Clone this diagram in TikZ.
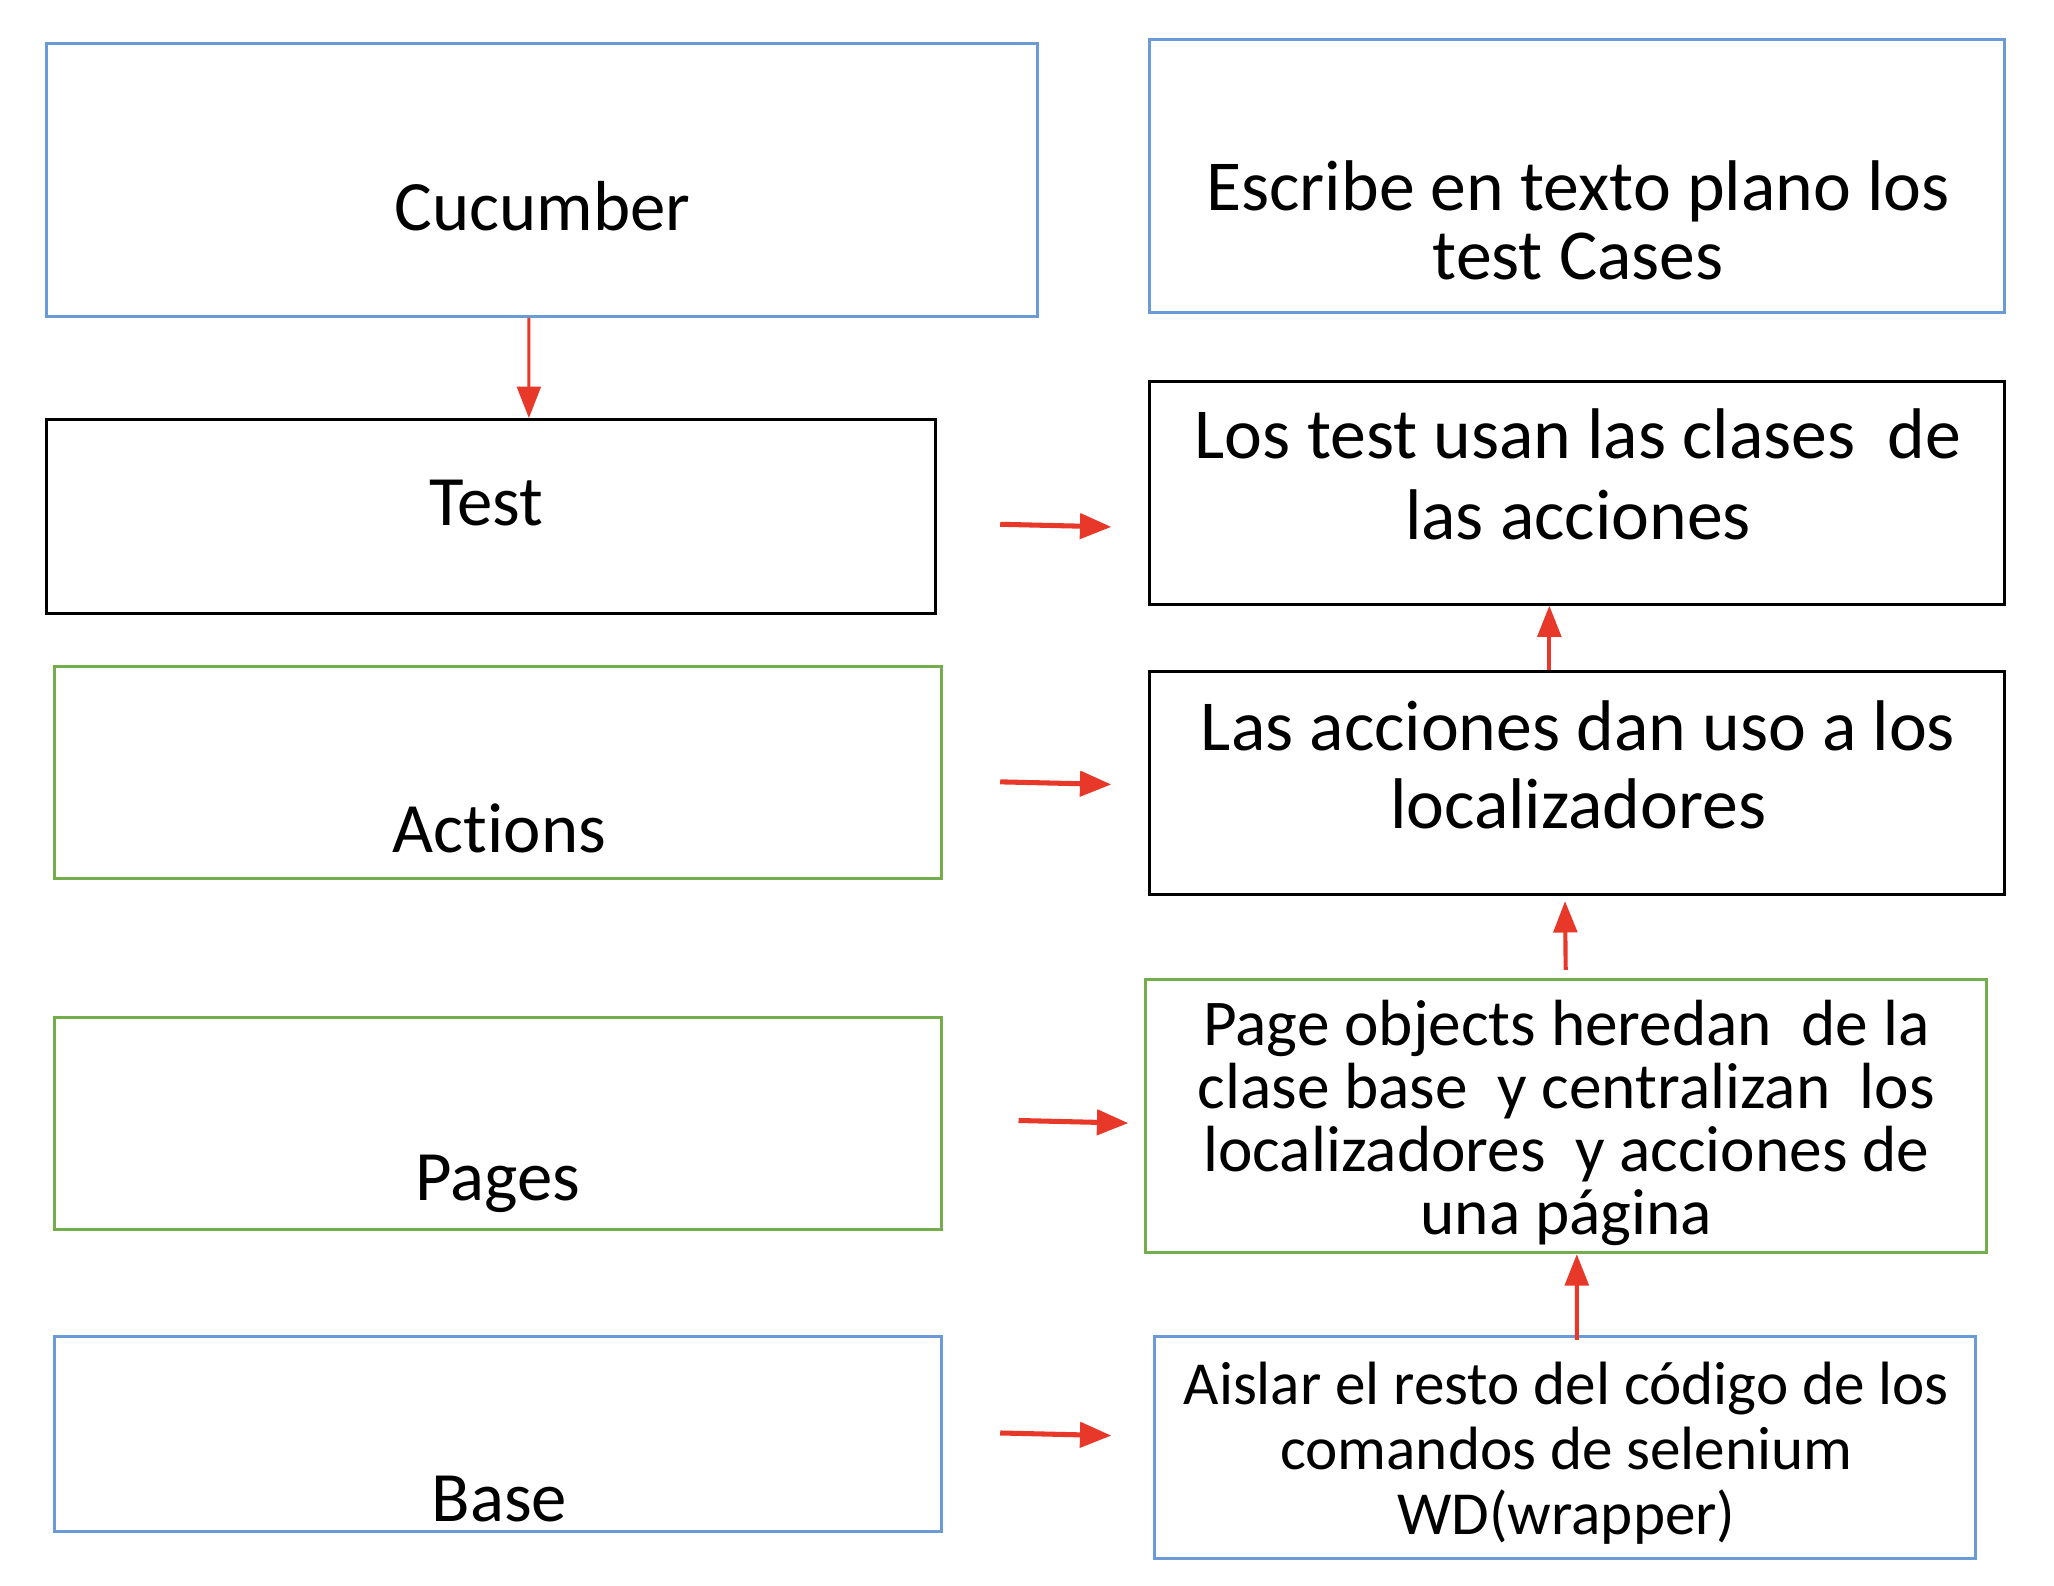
\documentclass[tikz,border=0pt]{standalone}
\usepackage{fontspec}
\setmainfont{Carlito}[Ligatures=NoCommon]
\usetikzlibrary{arrows.meta}
\definecolor{boxblue}{HTML}{6A9BD6}
\definecolor{boxgreen}{HTML}{74AD4C}
\definecolor{arrred}{HTML}{E8382A}
\begin{document}
\begin{tikzpicture}[x=0.01cm,y=-0.01cm,
  box/.style={draw=#1,line width=0.65pt,inner sep=0pt,fill=none},
  lefttext/.style={anchor=base,inner sep=0pt,font=\fontsize{15.4}{18}\selectfont},
  righttext/.style={anchor=center,inner sep=0pt,align=center},
  varrow/.style={draw=arrred,line width=0.9pt,-{Triangle[length=0.24cm,width=0.18cm]}},
  harrow/.style={draw=arrred,line width=1.1pt,-{Triangle[length=0.24cm,width=0.19cm]}}]
\useasboundingbox (0,0) rectangle (1571,1213);
% boxes
\node[box=boxblue,minimum width=7.57cm,minimum height=2.09cm] (cuc) at (414.5,137.5) {};
\node[box=boxblue,minimum width=6.54cm,minimum height=2.09cm] (esc) at (1206,134.5) {};
\node[box=black,minimum width=6.79cm,minimum height=1.48cm] (test) at (375.5,395) {};
\node[box=black,minimum width=6.54cm,minimum height=1.70cm] (los) at (1206,377) {};
\node[box=boxgreen,minimum width=6.78cm,minimum height=1.62cm] (act) at (381,591) {};
\node[box=black,minimum width=6.54cm,minimum height=1.70cm] (las) at (1206,599) {};
\node[box=boxgreen,minimum width=6.78cm,minimum height=1.62cm] (pag) at (381,859) {};
\node[box=boxgreen,minimum width=6.43cm,minimum height=2.09cm] (pob) at (1197.5,853.5) {};
\node[box=boxblue,minimum width=6.78cm,minimum height=1.49cm] (bas) at (381,1096.5) {};
\node[box=boxblue,minimum width=6.28cm,minimum height=1.70cm] (ais) at (1197,1107) {};
% texts
\node[lefttext] (tcuc) at (415,176) {Cucumber};
\node[lefttext] (ttest) at (372,402) {Test};
\node[lefttext] (tact) at (382,652) {Actions};
\node[lefttext] (tpag) at (381,918) {Pages};
\node[lefttext] (tbas) at (382,1164) {Base};
\node[righttext,font=\fontsize{15.6}{14.9}\selectfont] (tesc) at (1207,168.5) {Escribe en texto plano los\\test Cases};
\node[righttext,font=\fontsize{15.6}{17.6}\selectfont] (tlos) at (1207,363) {Los test usan las clases\ \ de\\las acciones};
\node[righttext,font=\fontsize{15.6}{17}\selectfont] (tlas) at (1207,585) {Las acciones dan uso a los\\localizadores};
\node[righttext,font=\fontsize{14.2}{13.7}\selectfont] (tpob) at (1198,858.5) {Page objects heredan\ \ de la\\clase base\ \ y centralizan\ \ los\\localizadores\ \ y acciones de\\una página};
\node[righttext,font=\fontsize{13.3}{14.2}\selectfont] (tais) at (1198,1111.5) {Aislar el resto del código de los\\comandos de selenium\\WD(wrapper)};
% vertical arrows
\draw[varrow,line width=0.7pt] ([xshift=-0.1cm]cuc.south) -- ([xshift=0.29cm]test.north);
\draw[varrow] ([xshift=-0.21cm]las.north) -- ([xshift=-0.21cm]los.south);
\draw[varrow] ([yshift=0.06cm]pob.north) -- ([xshift=-0.09cm,yshift=-0.04cm]las.south);
\draw[varrow] ([xshift=0.09cm,yshift=-0.04cm]ais.north) -- ([xshift=0.085cm]pob.south);
% horizontal arrows
\coordinate (h1s) at (765,401); \coordinate (h1e) at (850,403);
\coordinate (h2s) at (765,598); \coordinate (h2e) at (850,600);
\coordinate (h3s) at (779,857); \coordinate (h3e) at (863,859);
\coordinate (h4s) at (765,1096); \coordinate (h4e) at (850,1098);
\draw[harrow] (h1s) -- (h1e);
\draw[harrow] (h2s) -- (h2e);
\draw[harrow] (h3s) -- (h3e);
\draw[harrow] (h4s) -- (h4e);
\end{tikzpicture}
\end{document}
